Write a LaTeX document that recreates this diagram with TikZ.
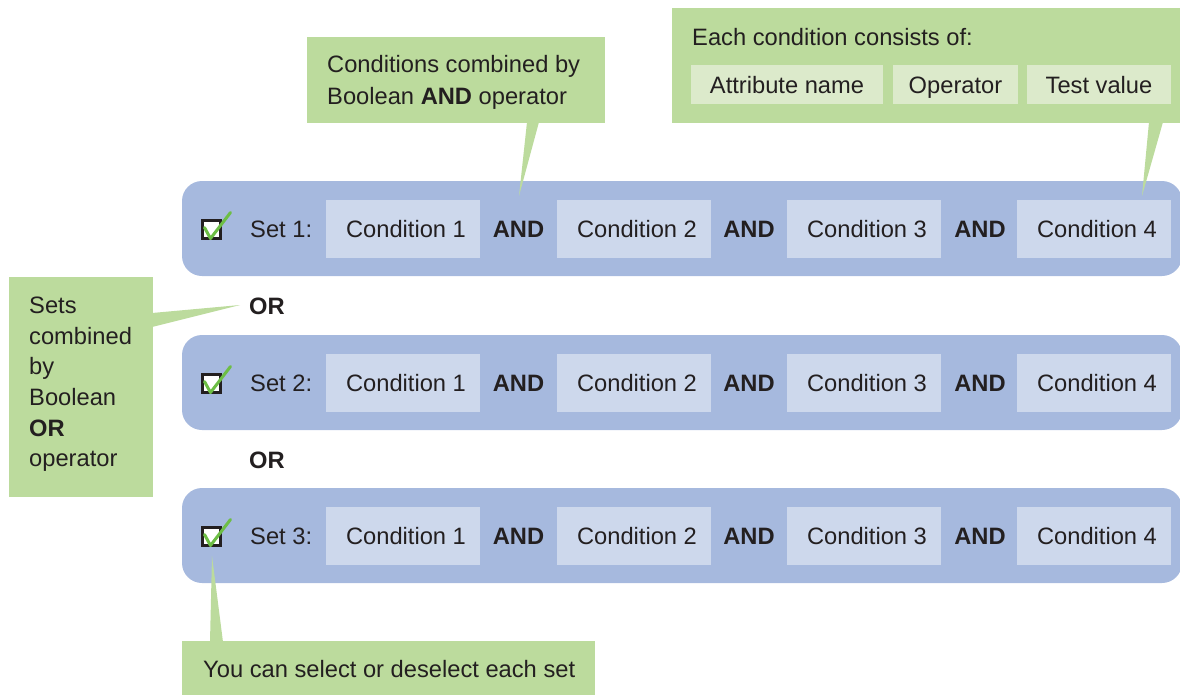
\documentclass[tikz,border=0pt]{standalone}
\usepackage{fontspec}
\setmainfont{Liberation Sans}
\definecolor{barblue}{HTML}{A6B9DE}
\definecolor{condblue}{HTML}{CDD8EC}
\definecolor{callgreen}{HTML}{BCDB9D}
\definecolor{lightgreen}{HTML}{DCEACB}
\definecolor{checkgreen}{HTML}{6DBE45}
\definecolor{txt}{HTML}{231F20}
\begin{document}
\begin{tikzpicture}[x=1pt,y=-1pt,
  every node/.style={text=txt,font=\fontsize{23.7}{29}\selectfont},
  bar/.style={fill=barblue,draw=none,rounded corners=20pt},
  cond/.style={fill=condblue,draw=none,minimum width=154pt,minimum height=58pt,inner sep=0pt,
    text height=17pt,text depth=0pt,execute at begin node={\hspace*{6pt}}},
  andlbl/.style={font=\fontsize{23.7}{29}\selectfont\bfseries,inner sep=0pt},
  callout/.style={fill=callgreen,draw=none},
  inner/.style={fill=lightgreen,draw=none,minimum height=39pt,inner sep=0pt,text height=17pt,text depth=0pt},
  cbox/.style={draw=txt,line width=2.8pt,fill=white,minimum size=18.5pt,inner sep=0pt},
  chk/.style={draw=checkgreen,line width=3pt,line cap=round,line join=round}]
\useasboundingbox (0,0) rectangle (1180,694);
% bars
\foreach \n/\y in {1/229,2/383,3/536}{
  \fill[bar] (182,\y-48) rectangle (1182,\y+47);
  \node[cbox] (cb\n) at (211.5,\y+0.5) {};
  \draw[chk] (cb\n.center) ++(-7,-2) -- ++(6,11) -- ++(20,-26);
  \node[anchor=west,inner sep=0pt] (set\n) at (250,\y) {Set \n:};
  \node[cond] (c\n a) at (403,\y) {Condition 1};
  \node[cond] (c\n b) at (634,\y) {Condition 2};
  \node[cond] (c\n c) at (864,\y) {Condition 3};
  \node[cond] (c\n d) at (1094,\y) {Condition 4};
  \node[andlbl] (a\n a) at (518.5,\y) {AND};
  \node[andlbl] (a\n b) at (749,\y) {AND};
  \node[andlbl] (a\n c) at (980,\y) {AND};
}
\node[andlbl] (or1) at (267,306) {OR};
\node[andlbl] (or2) at (267,460) {OR};
% callout: AND
\node[callout,minimum width=298pt,minimum height=86pt,anchor=north west,inner sep=0pt] (coA) at (307,37) {};
\node[anchor=west,align=left,inner sep=0pt,font=\fontsize{23.7}{32}\selectfont] (coAt) at (327,82) {Conditions combined by\\Boolean \textbf{AND} operator};
\coordinate (tipA) at (519,196);
\fill[callgreen] (527,122) -- (539,122) -- (tipA) -- cycle;
% callout: each condition
\node[callout,minimum width=512pt,minimum height=115pt,anchor=north west,inner sep=0pt] (coE) at (672,8) {};
\node[anchor=west,inner sep=0pt] (coEt) at (692,37) {Each condition consists of:};
\node[inner,minimum width=192pt] (attr) at (787,84.5) {Attribute name};
\node[inner,minimum width=125pt] (oper) at (955.5,84.5) {Operator};
\node[inner,minimum width=144pt] (tval) at (1099,84.5) {Test value};
\coordinate (tipE) at (1142,196);
\fill[callgreen] (1149,122) -- (1163,122) -- (tipE) -- cycle;
% callout: sets OR
\node[callout,minimum width=144pt,minimum height=220pt,anchor=north west,inner sep=0pt] (coS) at (9,277) {};
\node[anchor=north west,align=left,inner sep=0pt,font=\fontsize{23.7}{30.6}\selectfont] (coSt) at (29,297) {Sets\\combined\\by\\Boolean\\\textbf{OR}\\operator};
\coordinate (tipS) at (240,305);
\fill[callgreen] (152,313) -- (152,327) -- (tipS) -- cycle;
% callout: select
\node[callout,minimum width=413pt,minimum height=60pt,anchor=north west,inner sep=0pt] (coY) at (182,641) {};
\node[anchor=west,inner sep=0pt] (coYt) at (203,669) {You can select or deselect each set};
\coordinate (tipY) at (212,556);
\fill[callgreen] (210,642) -- (223,642) -- (tipY) -- cycle;
\end{tikzpicture}
\end{document}
